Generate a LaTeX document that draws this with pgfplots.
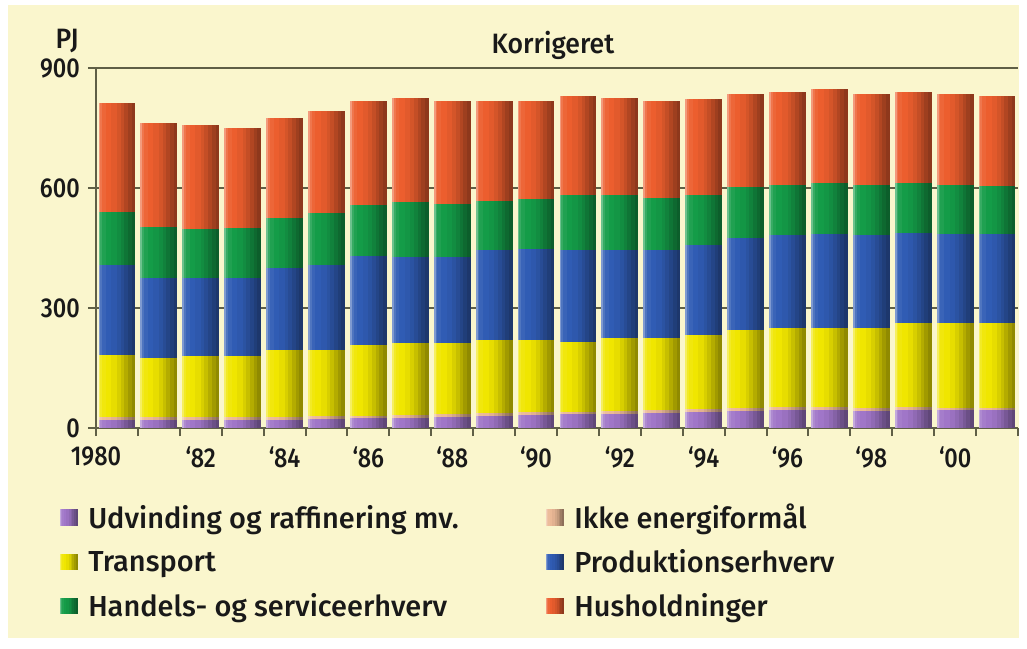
\documentclass[border=0pt]{standalone}
\usepackage{fontspec}
\setmainfont{Fira Sans}[UprightFont=* Medium, FakeStretch=0.95]
\newfontfamily\legfont{Fira Sans}[UprightFont=* Medium, FakeStretch=1.0]
\newfontfamily\numfont{Fira Sans}[UprightFont=* Medium, FakeStretch=0.86]
\usepackage{pgfplots}
\usepackage{pgfplotstable}
\pgfplotsset{compat=1.18}

\definecolor{bg}{RGB}{250,246,205}
\definecolor{axcol}{RGB}{95,95,70}
\definecolor{cP}{RGB}{160,118,200}
\definecolor{cK}{RGB}{235,185,150}
\definecolor{cT}{RGB}{240,230,0}
\definecolor{cB}{RGB}{48,92,180}
\definecolor{cG}{RGB}{20,156,72}
\definecolor{cH}{RGB}{236,94,46}

% cumulative tops of the stacked layers (PJ)
\pgfplotstableread{
x P K T B G H
0 20 27 182 408 541 812
1 20 27 174 374 502 763
2 20 27 180 374 498 757
3 20 27 180 374 501 749
4 21 28 195 399 526 774
5 22 29 195 408 538 792
6 24 31 207 430 557 818
7 26 33 213 428 566 824
8 28 35 213 428 560 818
9 30 37 220 445 568 818
10 32 39 220 447 572 818
11 34 41 216 445 582 830
12 35 42 224 445 582 824
13 37 44 224 445 576 818
14 40 47 232 457 582 822
15 42 49 245 474 602 835
16 45 52 249 482 607 841
17 45 52 249 485 613 847
18 43 50 249 482 607 835
19 45 52 262 487 612 841
20 44 51 262 485 607 835
21 44 51 262 485 605 830
}\data

% cylinder-like body: colour, left x, width, bottom y, top y
\newcommand\cylfill[5]{%
  \fill[draw=none,#1!62!white] (#2,#4) rectangle ({#2+0.05*#3+0.3pt},#5);
  \fill[draw=none,#1!85!white] ({#2+0.05*#3},#4) rectangle ({#2+0.10*#3+0.3pt},#5);
  \fill[draw=none,#1!95!white] ({#2+0.10*#3},#4) rectangle ({#2+0.20*#3+0.3pt},#5);
  \fill[draw=none,#1] ({#2+0.20*#3},#4) rectangle ({#2+0.35*#3+0.3pt},#5);
  \fill[draw=none,#1!96!black] ({#2+0.35*#3},#4) rectangle ({#2+0.50*#3+0.3pt},#5);
  \fill[draw=none,#1!90!black] ({#2+0.50*#3},#4) rectangle ({#2+0.60*#3+0.3pt},#5);
  \fill[draw=none,#1!83!black] ({#2+0.60*#3},#4) rectangle ({#2+0.70*#3+0.3pt},#5);
  \fill[draw=none,#1!75!black] ({#2+0.70*#3},#4) rectangle ({#2+0.80*#3+0.3pt},#5);
  \fill[draw=none,#1!67!black] ({#2+0.80*#3},#4) rectangle ({#2+0.90*#3+0.3pt},#5);
  \fill[draw=none,#1!60!black] ({#2+0.90*#3},#4) rectangle ({#2+#3},#5);
}

\def\mkcyl#1#2{%
  \pgfdeclareplotmark{cyl#1}{%
    \begingroup\pgfkeys{/pgf/fpu=true,/pgf/fpu/output format=fixed}%
    \pgfmathparse{0.3*\yy}\xdef\hh{\pgfmathresult}\endgroup
    \cylfill{#2}{-13.83pt}{27.66pt}{-\hh pt}{0pt}}%
}
\mkcyl{P}{cP}
\mkcyl{K}{cK}
\mkcyl{T}{cT}
\mkcyl{B}{cB}
\mkcyl{G}{cG}
\mkcyl{H}{cH}

\pgfplotsset{
  cylplot/.style={only marks, mark=cyl#1, forget plot,
    visualization depends on={y \as \yy}},
  legimg/.style={legend image code/.code={\cylfill{c#1}{0pt}{13pt}{-6.25pt}{6.25pt}}},
}

\begin{document}
\begin{tikzpicture}
\useasboundingbox (-72pt,-165.75pt) rectangle (698.25pt,321pt);
\fill[white] (-72pt,-165.75pt) rectangle (698.25pt,321pt);
\fill[bg] (-66pt,-157.5pt) rectangle (692.25pt,317.25pt);
\begin{axis}[
  at={(0pt,0pt)}, anchor=south west,
  scale only axis, width=691.5pt, height=270pt,
  xmin=-0.5, xmax=21.5, ymin=0, ymax=900,
  clip=false,
  axis x line*=bottom, axis y line*=left,
  axis line style={axcol, line width=1.8pt},
  xtick={-0.5,0.5,...,21.5}, xticklabels={},
  extra x ticks={-0.5,2,4,6,8,10,12,14,16,18,20},
  extra x tick labels={1980,‘82,‘84,‘86,‘88,‘90,‘92,‘94,‘96,‘98,‘00},
  extra x tick style={major tick length=0pt, xticklabel style={anchor=north, inner sep=0pt, yshift=-14pt}},
  xtick align=outside, ytick align=outside,
  major tick length=6pt,
  tick style={axcol, line width=1.5pt},
  ytick={0,300,600,900},
  yticklabel style={anchor=east, inner sep=0pt, xshift=-6pt},
  tick label style={font=\numfont\fontsize{20.5}{24}\selectfont, text=black!90},
  /pgf/number format/assume math mode=true,
  ymajorgrids, grid style={axcol, line width=1pt},
  legend style={at={(0,0)}, anchor=north west, xshift=-27pt, yshift=-55pt,
    draw=none, fill=none, inner sep=0pt, legend columns=2,
    font=\legfont\fontsize{21.7}{26}\selectfont, text=black!90, row sep=10pt,
    /tikz/every odd column/.append style={column sep=6pt},
    /tikz/every even column/.append style={column sep=63.75pt}},
  legend cell align=left,
]
\addplot[cylplot=H] table[x=x,y=H]{\data};
\addplot[cylplot=G] table[x=x,y=G]{\data};
\addplot[cylplot=B] table[x=x,y=B]{\data};
\addplot[cylplot=T] table[x=x,y=T]{\data};
\addplot[cylplot=K] table[x=x,y=K]{\data};
\addplot[cylplot=P] table[x=x,y=P]{\data};
\addlegendimage{legimg=P}
\addlegendimage{legimg=K}
\addlegendimage{legimg=T}
\addlegendimage{legimg=B}
\addlegendimage{legimg=G}
\addlegendimage{legimg=H}
\legend{Udvinding og raffinering mv., Ikke energiformål, Transport, Produktionserhverv, Handels- og serviceerhverv, Husholdninger}
\draw[axcol, line width=1.8pt] (rel axis cs:0,1) -- (rel axis cs:1,1);
\node[anchor=base, inner sep=0pt, font=\fontsize{21}{25}\selectfont, text=black!90] at (rel axis cs:0.5,1) [xshift=-3pt, yshift=11.25pt] {Korrigeret};
\node[anchor=east, inner sep=0pt, font=\fontsize{21}{25}\selectfont, text=black!90] at (rel axis cs:0,1) [xshift=-12.75pt, yshift=20.5pt] {PJ};
\end{axis}
\end{tikzpicture}
\end{document}
